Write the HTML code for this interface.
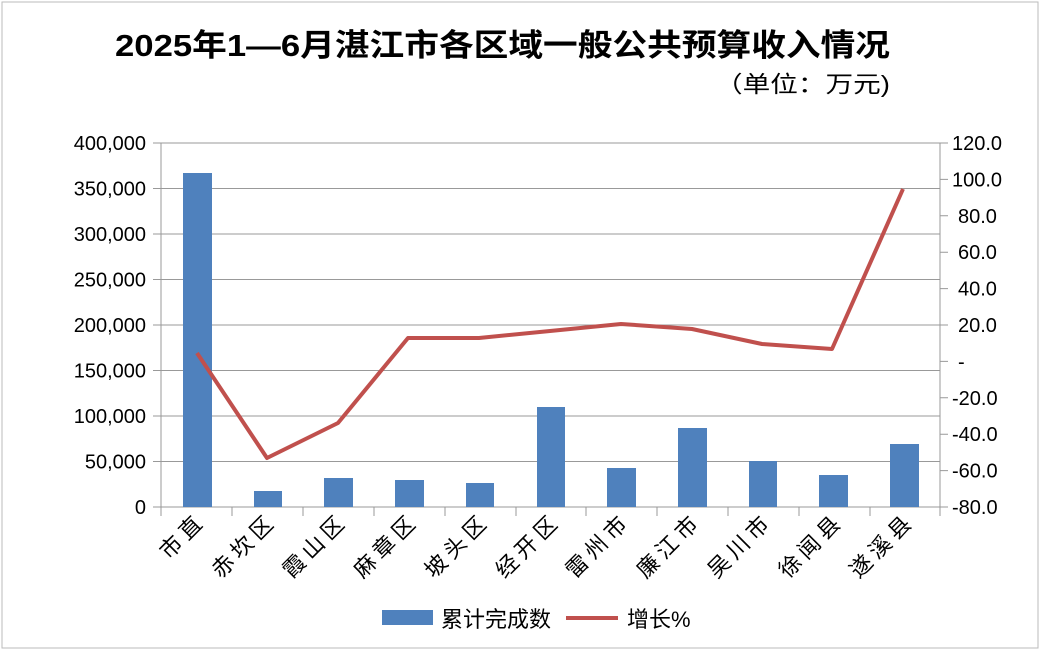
<!DOCTYPE html><html><head><meta charset="utf-8"><style>body{margin:0;background:#fff}svg{display:block}text{font-family:"Liberation Sans","Noto Sans CJK SC",sans-serif}</style></head><body>
<svg width="1042" height="655" xmlns="http://www.w3.org/2000/svg">
<rect x="2" y="2" width="1036" height="646" fill="#fff" stroke="#bbb" stroke-width="1"/>
<text x="115" y="56" textLength="775" lengthAdjust="spacingAndGlyphs" font-size="31" font-weight="bold" fill="#000">2025年1—6月湛江市各区域一般公共预算收入情况</text>
<text x="715" y="92" textLength="175" lengthAdjust="spacingAndGlyphs" font-size="23" fill="#000">（单位：万元)</text>
<g stroke="#999" stroke-width="1">
<line x1="161" y1="143" x2="940" y2="143"/><line x1="161" y1="188.5" x2="940" y2="188.5"/><line x1="161" y1="234" x2="940" y2="234"/><line x1="161" y1="279.5" x2="940" y2="279.5"/><line x1="161" y1="325" x2="940" y2="325"/><line x1="161" y1="370.5" x2="940" y2="370.5"/><line x1="161" y1="416" x2="940" y2="416"/><line x1="161" y1="461.5" x2="940" y2="461.5"/><line x1="161" y1="507" x2="940" y2="507"/>
<line x1="161" y1="143" x2="161" y2="507"/><line x1="940" y1="143" x2="940" y2="507"/>
</g>
<g stroke="#999"><path d="M153 143h8M153 188.5h8M153 234h8M153 279.5h8M153 325h8M153 370.5h8M153 416h8M153 461.5h8M153 507h8M940 143h8M940 179.4h8M940 215.8h8M940 252.2h8M940 288.6h8M940 325h8M940 361.4h8M940 397.8h8M940 434.2h8M940 470.6h8M940 507h8"/>
<path d="M161 507v9M232 507v9M303 507v9M374 507v9M445 507v9M516 507v9M586 507v9M657 507v9M728 507v9M799 507v9M870 507v9M940 507v9"/></g>
<g font-size="20" fill="#000" text-anchor="end">
<text x="146" y="150">400,000</text><text x="146" y="195.5">350,000</text><text x="146" y="241">300,000</text><text x="146" y="286.5">250,000</text><text x="146" y="332">200,000</text><text x="146" y="377.5">150,000</text><text x="146" y="423">100,000</text><text x="146" y="468.5">50,000</text><text x="146" y="514">0</text>
</g>
<g font-size="20" fill="#000">
<text x="952" y="150">120.0</text><text x="952" y="186.4">100.0</text><text x="958" y="222.8">80.0</text><text x="958" y="259.2">60.0</text><text x="958" y="295.6">40.0</text><text x="958" y="332">20.0</text><text x="958" y="368.4">-</text><text x="952" y="404.8">-20.0</text><text x="952" y="441.2">-40.0</text><text x="952" y="477.6">-60.0</text><text x="952" y="514">-80.0</text>
</g>
<g fill="#4f81bd">
<rect x="183" y="173" width="29" height="334"/><rect x="254" y="491" width="28" height="16"/><rect x="324" y="478" width="29" height="29"/><rect x="395" y="480" width="29" height="27"/><rect x="466" y="483" width="28" height="24"/><rect x="537" y="407" width="28" height="100"/><rect x="607" y="468" width="29" height="39"/><rect x="678" y="428" width="29" height="79"/><rect x="749" y="461" width="28" height="46"/><rect x="819" y="475" width="29" height="32"/><rect x="890" y="444" width="29" height="63"/>
</g>
<polyline fill="none" stroke="#c0504d" stroke-width="4" stroke-linejoin="round" points="197,353 267,458 338,423 408,338 479,338 550,331 621,324 692,329 762,344 832,349 903,189"/>
<g font-size="22" fill="#000" text-anchor="end" letter-spacing="5">
<text transform="translate(207,522) rotate(-45)">市直</text>
<text transform="translate(278,522) rotate(-45)">赤坎区</text>
<text transform="translate(349,522) rotate(-45)">霞山区</text>
<text transform="translate(420,522) rotate(-45)">麻章区</text>
<text transform="translate(491,522) rotate(-45)">坡头区</text>
<text transform="translate(562,522) rotate(-45)">经开区</text>
<text transform="translate(632,522) rotate(-45)">雷州市</text>
<text transform="translate(703,522) rotate(-45)">廉江市</text>
<text transform="translate(774,522) rotate(-45)">吴川市</text>
<text transform="translate(845,522) rotate(-45)">徐闻县</text>
<text transform="translate(916,522) rotate(-45)">遂溪县</text>
</g>
<rect x="382" y="610" width="51" height="15" fill="#4f81bd"/>
<text x="441" y="627" font-size="22" fill="#000">累计完成数</text>
<line x1="566" y1="618" x2="618" y2="618" stroke="#c0504d" stroke-width="4"/>
<text x="627" y="627" font-size="22" fill="#000">增长%</text>
</svg></body></html>
